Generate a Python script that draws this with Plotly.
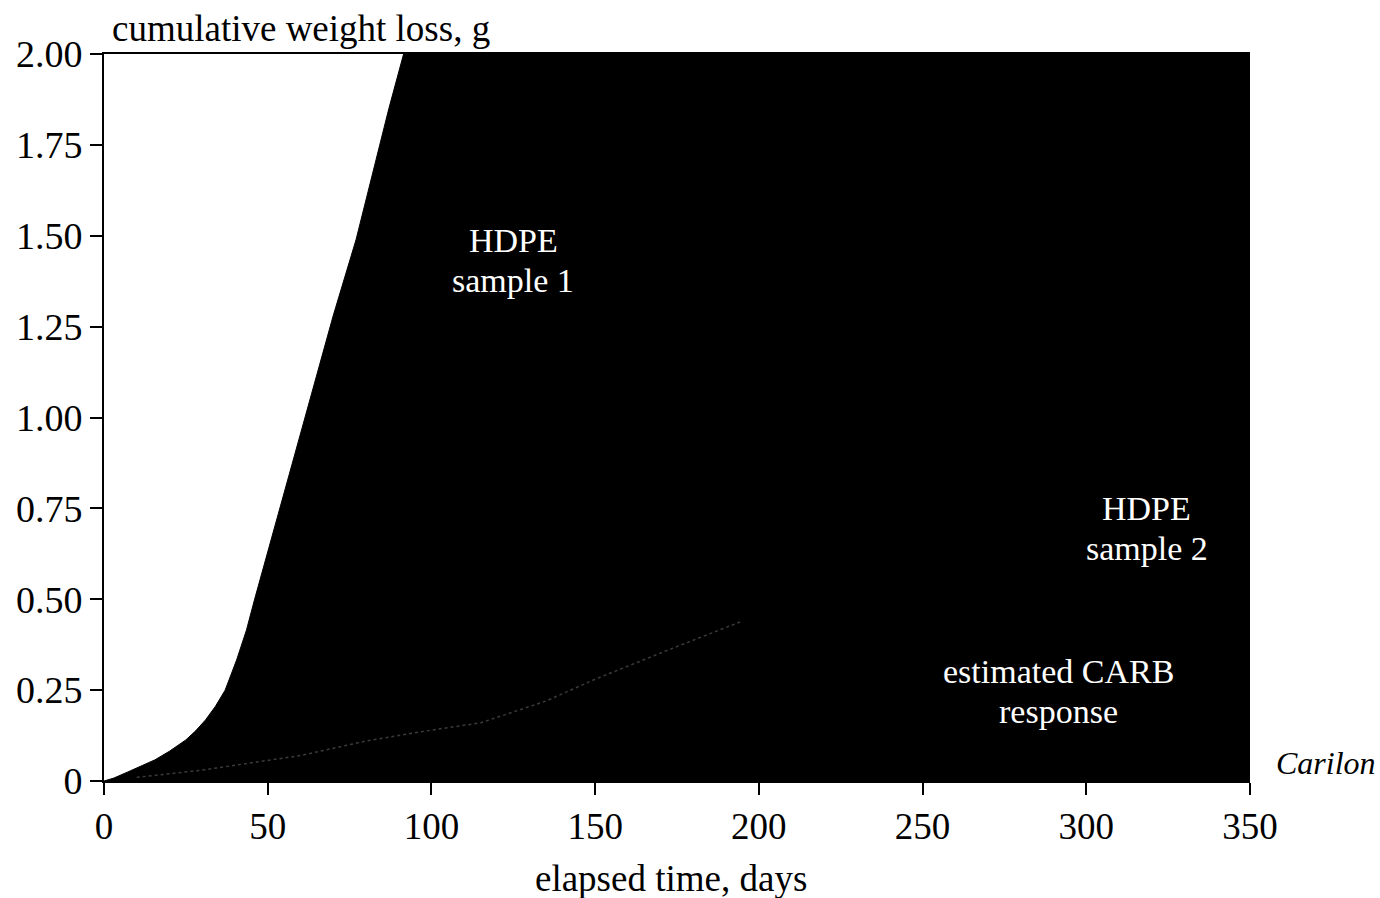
import plotly.graph_objects as go

# HDPE sample 1 cumulative weight loss (g) vs elapsed time (days)
days_s1 = [0, 3, 7.3, 11, 15.5, 20, 25, 28, 31, 34, 37, 40.5, 43.5, 46, 50, 55, 60, 65, 70, 77, 82, 87, 91.5]
loss_s1 = [0, 0.008, 0.025, 0.04, 0.058, 0.082, 0.113, 0.138, 0.168, 0.205, 0.25, 0.333, 0.415, 0.50,
           0.63, 0.79, 0.96, 1.12, 1.28, 1.49, 1.67, 1.85, 2.0]

# faint trace visible inside the dark region
days_faint = [10, 30, 60, 80, 100, 115, 135, 150, 175, 195]
loss_faint = [0.01, 0.03, 0.07, 0.11, 0.14, 0.16, 0.22, 0.28, 0.37, 0.44]

x_ticks = [0, 50, 100, 150, 200, 250, 300, 350]
y_ticks = [0, 0.25, 0.5, 0.75, 1.0, 1.25, 1.5, 1.75, 2.0]
y_tick_text = ["0", "0.25", "0.50", "0.75", "1.00", "1.25", "1.50", "1.75", "2.00"]

X_MAX = x_ticks[-1]
Y_MAX = y_ticks[-1]

# in-plot labels (one entry per text line)
label_text = ["HDPE", "sample 1", "HDPE", "sample 2", "estimated CARB", "response"]
label_x = [125, 125, 318.5, 318.5, 291.5, 291.5]
label_y = [1.486, 1.376, 0.75, 0.64, 0.302, 0.192]

FONT = "Liberation Serif"

fig = go.Figure()

# dark region to the right of HDPE sample 1 curve
fig.add_trace(go.Scatter(
    x=days_s1 + [X_MAX, X_MAX],
    y=loss_s1 + [Y_MAX, 0],
    mode="lines",
    fill="toself",
    fillcolor="black",
    line=dict(color="black", width=1),
    hoverinfo="skip",
    showlegend=False,
))

fig.add_trace(go.Scatter(
    x=days_faint, y=loss_faint,
    mode="lines",
    line=dict(color="#3a3a3a", width=1.5, dash="dot"),
    hoverinfo="skip",
    showlegend=False,
))

for t, lx, ly in zip(label_text, label_x, label_y):
    fig.add_annotation(x=lx, y=ly, text=t, showarrow=False, xref="x", yref="y",
                       borderpad=0,
                       font=dict(family=FONT, size=34, color="white"))

fig.add_annotation(text="cumulative weight loss, g", xref="paper", yref="paper",
                   x=(110 - 104) / 1146, y=1, yshift=26, xanchor="left", yanchor="middle",
                   showarrow=False, font=dict(family=FONT, size=37, color="black"))
fig.add_annotation(text="elapsed time, days", xref="paper", yref="paper",
                   x=(671 - 104) / 1146, y=0, yshift=-97, xanchor="center", yanchor="middle",
                   showarrow=False, font=dict(family=FONT, size=37, color="black"))
fig.add_annotation(text="<i>Carilon</i>", xref="paper", yref="paper",
                   x=1, xshift=24, y=0, yshift=18, xanchor="left", yanchor="middle",
                   showarrow=False, font=dict(family=FONT, size=32, color="black"))

fig.update_layout(
    width=1380, height=898,
    margin=dict(l=104, r=130, t=54, b=117),
    paper_bgcolor="white",
    plot_bgcolor="white",
    font=dict(family=FONT, color="black"),
    showlegend=False,
)

fig.update_xaxes(
    range=[0, X_MAX], tickvals=x_ticks, ticktext=[str(v) for v in x_ticks],
    ticks="outside", ticklen=12, tickwidth=2, tickcolor="black",
    showline=True, linecolor="black", linewidth=2, mirror=True,
    showgrid=False, zeroline=False,
    tickfont=dict(family=FONT, size=37, color="black"),
)
fig.update_yaxes(
    range=[0, Y_MAX], tickvals=y_ticks, ticktext=y_tick_text,
    ticks="outside", ticklen=12, tickwidth=2, tickcolor="black",
    showline=True, linecolor="black", linewidth=2,
    showgrid=False, zeroline=False,
    tickfont=dict(family=FONT, size=38, color="black"),
)

fig.write_html("out.html")
